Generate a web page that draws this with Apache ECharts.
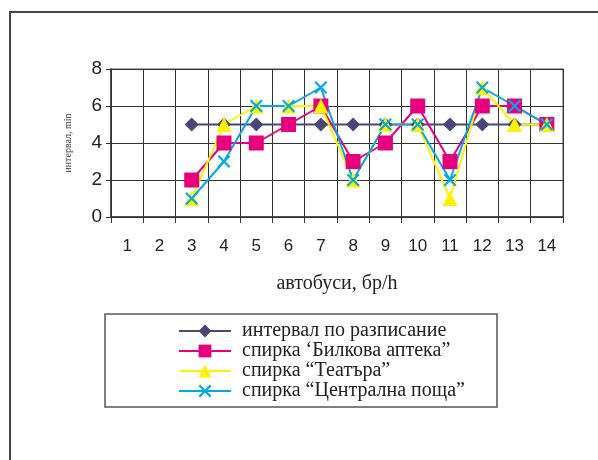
<!DOCTYPE html>
<html><head><meta charset="utf-8">
<script src="https://cdn.jsdelivr.net/npm/echarts@6/dist/echarts.min.js"></script>
<style>html,body{margin:0;padding:0;background:#fff}#c{width:598px;height:460px}</style>
</head><body><div id="c"></div>
<script>
const categories = ['1','2','3','4','5','6','7','8','9','10','11','12','13','14'];
const scheduleInterval = [null,null,5,5,5,5,5,5,5,5,5,5,5,5];
const bilkovaApteka = [null,null,2,4,4,5,6,3,4,6,3,6,6,5];
const teatara = [null,null,1,5,6,6,6,2,5,5,1,7,5,5];
const centralnaPoshta = [null,null,1,3,6,6,7,2,5,5,2,7,6,5];
const seriesNames = ['интервал по разписание','спирка ‘Билкова аптека”','спирка “Театъра”','спирка “Централна поща”'];
const yTicks = {min:0, max:8, interval:2};

const xPath = 'path://M0,1.2L1.2,0L5,3.8L8.8,0L10,1.2L6.2,5L10,8.8L8.8,10L5,6.2L1.2,10L0,8.8L3.8,5Z';
const chart = echarts.init(document.getElementById('c'), null, {renderer:'canvas'});
function mk(name, data, color, symbol, size, extra){
  return Object.assign({name, type:'line', data, symbol, symbolSize:size, showSymbol:true,
    connectNulls:false, lineStyle:{color, width:2}, itemStyle:{color},
    emphasis:{disabled:true}, animation:false}, extra||{});
}
chart.setOption({
  animation:false,
  graphic:[
    {type:'rect', shape:{x:10, y:12, width:620, height:480}, style:{fill:'none', stroke:'#444', lineWidth:2}, z:-1},
    {type:'rect', shape:{x:105, y:314, width:392, height:93}, style:{fill:'#fff', stroke:'#555', lineWidth:1.5}, z:-1}
  ],
  grid:{left:111, top:69, width:452, height:148, show:true, borderColor:'#888', borderWidth:1.5, backgroundColor:'transparent'},
  legend:{orient:'vertical', left:173, top:316, itemWidth:52, itemHeight:16, itemGap:0,
    textStyle:{fontFamily:'Liberation Serif', fontSize:20, lineHeight:19.5, color:'#222', padding:[0,0,0,6]},
    data:seriesNames},
  xAxis:{type:'category', data:categories, boundaryGap:true,
    name:'автобуси, бр/h', nameLocation:'middle', nameGap:57,
    nameTextStyle:{fontFamily:'Liberation Serif', fontSize:20, color:'#222'},
    axisLine:{lineStyle:{color:'#333', width:1.5}},
    axisTick:{show:true, length:6, inside:false, lineStyle:{color:'#333'}},
    axisLabel:{margin:21, fontFamily:'Liberation Sans', fontSize:17, color:'#222', interval:0},
    splitLine:{show:true, interval:0, lineStyle:{color:'#333', width:1}}},
  yAxis:{type:'value', min:yTicks.min, max:yTicks.max, interval:yTicks.interval,
    name:'интервал, min', nameLocation:'middle', nameGap:38,
    nameTextStyle:{fontFamily:'Liberation Serif', fontSize:10, color:'#333'},
    axisLine:{show:true, lineStyle:{color:'#333', width:1.5}},
    axisTick:{show:true, length:5, lineStyle:{color:'#333'}},
    axisLabel:{margin:9, fontFamily:'Liberation Sans', fontSize:19, color:'#222'},
    splitLine:{show:true, lineStyle:{color:'#333', width:1}}},
  series:[
    mk(seriesNames[0], scheduleInterval, '#4a4677', 'diamond', 14),
    mk(seriesNames[1], bilkovaApteka, '#e6007e', 'rect', 15),
    mk(seriesNames[2], teatara, '#fff200', 'triangle', 15),
    mk(seriesNames[3], centralnaPoshta, '#00a9e8', xPath, 13)
  ]
});
</script></body></html>
